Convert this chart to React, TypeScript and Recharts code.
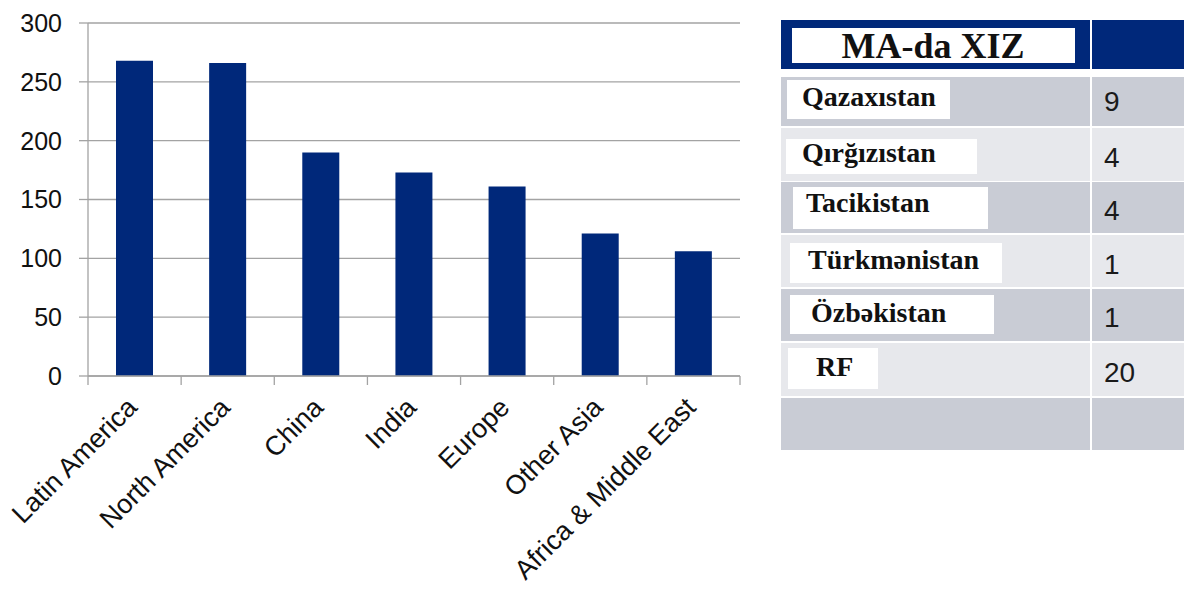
import React from 'react';
import { BarChart, Bar, XAxis, YAxis, CartesianGrid } from 'recharts';

// Chart data
const regions = ['Latin America', 'North America', 'China', 'India', 'Europe', 'Other Asia', 'Africa & Middle East'];
const regionValues = [268, 266, 190, 173, 161, 121, 106];
const yTicks = [0, 50, 100, 150, 200, 250, 300];

// Table data
const tableTitle = 'MA-da XIZ';
const countries = ['Qazaxıstan', 'Qırğızıstan', 'Tacikistan', 'Türkmənistan', 'Özbəkistan', 'RF'];
const counts = ['9', '4', '4', '1', '1', '20'];

const NAVY = '#00287a';
const GRID = '#a3a3a3';
const SANS = '"Liberation Sans", Arial, sans-serif';
const SERIF = '"Liberation Serif", "Times New Roman", serif';

const CHART_W = 760;
const CHART_H = 598;
const PLOT_LEFT = 88;
const PLOT_RIGHT = 740;
const BAND = (PLOT_RIGHT - PLOT_LEFT) / regions.length;

function RegionTick(props: any) {
  const { x, y, payload, index } = props;
  const tx = x + 4;
  const ty = y + 33;
  return (
    <g>
      <line x1={x - BAND / 2} x2={x - BAND / 2} y1={y} y2={y + 9} stroke={GRID} strokeWidth={1.3} />
      {index === regions.length - 1 && (
        <line x1={x + BAND / 2} x2={x + BAND / 2} y1={y} y2={y + 9} stroke={GRID} strokeWidth={1.3} />
      )}
      <text
        x={tx}
        y={ty}
        transform={`rotate(-45 ${tx} ${ty})`}
        textAnchor="end"
        fill="#111"
        fontSize={27}
        fontFamily={SANS}
      >
        {payload.value}
      </text>
    </g>
  );
}

// label box geometry in the table (left, top, width, height, text x, baseline)
const labelBoxes = [
  [787, 80, 163, 39, 802, 106],
  [786, 139, 191, 35, 802, 162],
  [793, 187, 195, 42, 806, 212],
  [790, 243, 212, 40, 808, 269],
  [790, 295, 204, 39, 811, 322],
  [788, 348, 90, 41, 816, 376],
];
const valueBaselines = [111, 167, 220, 274, 327, 382];
const rowTops = [77, 128, 182, 235, 289, 343, 398];
const rowBottoms = [126, 181, 233, 287, 341, 396, 450];

function InfoTable() {
  return (
    <svg width={1184} height={598} style={{ position: 'absolute', left: 0, top: 0 }}>
      <rect x={781} y={20} width={309} height={49} fill={NAVY} />
      <rect x={1092} y={20} width={92} height={49} fill={NAVY} />
      <rect x={792} y={28} width={283} height={35} fill="#fff" />
      <text x={933} y={58} textAnchor="middle" fontFamily={SERIF} fontWeight="bold" fontSize={36} fill="#111">
        {tableTitle}
      </text>
      {rowTops.map((top, i) => {
        const fill = i % 2 === 0 ? '#c9ccd5' : '#e7e8ec';
        return (
          <g key={`row-${i}`}>
            <rect x={781} y={top} width={309} height={rowBottoms[i] - top} fill={fill} />
            <rect x={1092} y={top} width={92} height={rowBottoms[i] - top} fill={fill} />
          </g>
        );
      })}
      {countries.map((name, i) => {
        const [bx, by, bw, bh, tx, tb] = labelBoxes[i];
        return (
          <g key={`label-${i}`}>
            <rect x={bx} y={by} width={bw} height={bh} fill="#fff" />
            <text x={tx} y={tb} fontFamily={SERIF} fontWeight="bold" fontSize={28} fill="#111">
              {name}
            </text>
            <text x={1104} y={valueBaselines[i]} fontFamily={SANS} fontSize={28} fill="#1a1a1a">
              {counts[i]}
            </text>
          </g>
        );
      })}
    </svg>
  );
}

export default function App() {
  const data = regions.map((name, i) => ({ name, value: regionValues[i] }));
  return (
    <div style={{ position: 'fixed', left: 0, top: 0, width: 1184, height: 598, background: '#fff' }}>
      <div style={{ position: 'absolute', left: 0, top: 0 }}>
        <BarChart
          width={CHART_W}
          height={CHART_H}
          data={data}
          margin={{ top: 23, right: CHART_W - PLOT_RIGHT, bottom: 0, left: 0 }}
        >
          <CartesianGrid vertical={false} stroke={GRID} strokeWidth={1.3} />
          <XAxis
            dataKey="name"
            height={222}
            interval={0}
            axisLine={{ stroke: GRID, strokeWidth: 1.3 }}
            tickLine={false}
            tickSize={0}
            tickMargin={0}
            tick={<RegionTick />}
          />
          <YAxis
            domain={[0, 300]}
            ticks={yTicks}
            width={PLOT_LEFT}
            axisLine={{ stroke: GRID, strokeWidth: 1.3 }}
            tickLine={{ stroke: GRID, strokeWidth: 1.3 }}
            tickSize={9}
            tickMargin={17}
            tick={{ fill: '#111', fontSize: 25, fontFamily: SANS }}
          />
          <Bar dataKey="value" fill={NAVY} barSize={37} isAnimationActive={false} />
        </BarChart>
      </div>
      <InfoTable />
    </div>
  );
}
